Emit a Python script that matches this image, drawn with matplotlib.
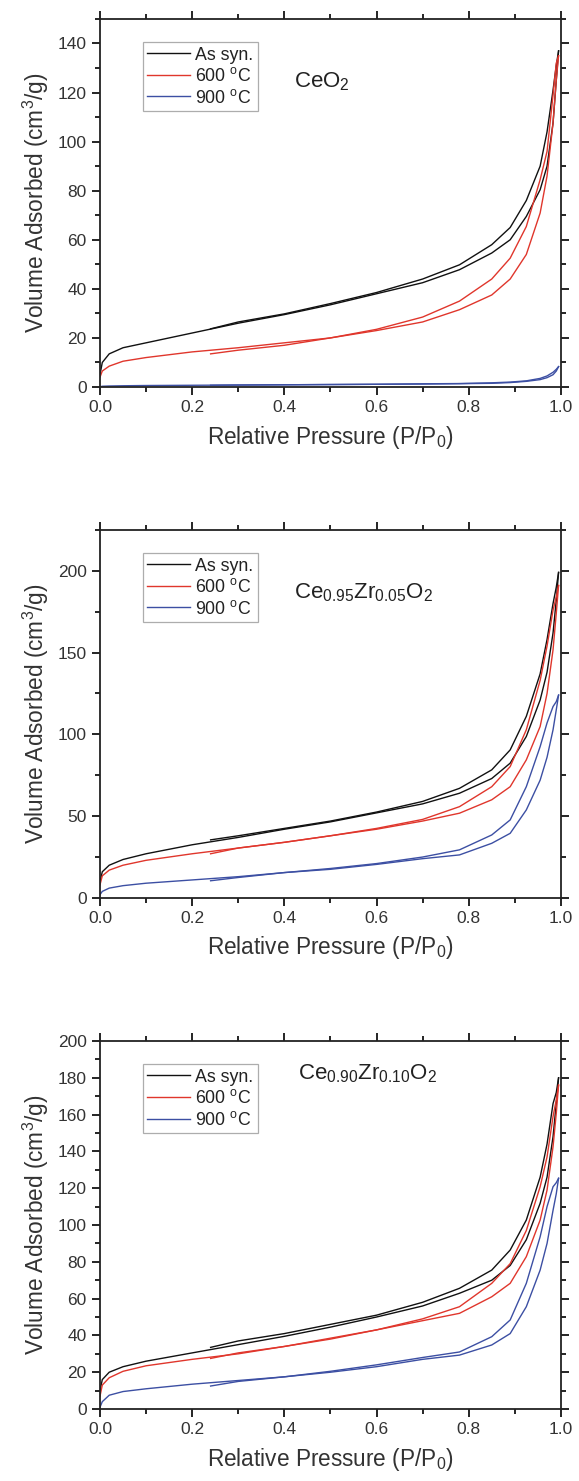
import numpy as np
import matplotlib.pyplot as plt
from matplotlib.ticker import MultipleLocator

plt.rcParams['font.family'] = ['Liberation Sans', 'DejaVu Sans']
plt.rcParams['mathtext.fontset'] = 'custom'
plt.rcParams['mathtext.rm'] = 'Liberation Sans'
plt.rcParams['mathtext.it'] = 'Liberation Sans:italic'

# Pressure points (adsorption going up, desorption coming back down)
p_ads = [0.0, 0.005, 0.02, 0.05, 0.1, 0.2, 0.3, 0.4, 0.5, 0.6, 0.7, 0.78,
         0.85, 0.89, 0.925, 0.955, 0.97, 0.983, 0.99, 0.995]
p_des = [0.995, 0.99, 0.983, 0.97, 0.955, 0.925, 0.89, 0.85, 0.78, 0.7, 0.6,
         0.5, 0.4, 0.3, 0.24]

labels = ['As syn.', '600 $^{\\mathrm{o}}$C', '900 $^{\\mathrm{o}}$C']
colors = ['#111111', '#e0362c', '#3c4fa3']

# CeO2
ceo2_ads = [
    [5, 10, 13.5, 16, 18, 22, 26, 29.5, 33.5, 38, 42.5, 47.8, 54.6, 60, 69.5, 80.4, 90, 107.6, 125, 137],
    [4, 6.5, 8.5, 10.5, 12, 14.3, 16, 18, 20, 23, 26.5, 31.5, 37.5, 44, 54, 70.9, 86, 107.6, 125, 135],
    [0.1, 0.3, 0.4, 0.5, 0.6, 0.7, 0.8, 0.9, 1.0, 1.1, 1.2, 1.35, 1.5, 1.8, 2.3, 3.0, 3.8, 5.0, 6.5, 8.3],
]
ceo2_des = [
    [137, 131, 121, 104, 90, 76, 65, 58, 49.8, 44, 38.5, 34, 29.8, 26.5, 23.7],
    [135, 132, 119, 96, 84.5, 65.4, 52.5, 44, 35, 28.5, 23.5, 20, 17, 15, 13.5],
    [8.3, 7.2, 6.0, 4.5, 3.5, 2.5, 2.0, 1.7, 1.4, 1.3, 1.1, 1.0, 0.9, 0.8, 0.7],
]

# Ce0.95Zr0.05O2
cz05_ads = [
    [10, 16, 20, 23.5, 27, 32.5, 37, 42, 46.5, 52, 57.5, 64, 73, 82.4, 98.7, 121, 138, 162, 182, 199],
    [8, 13.5, 17, 20, 23, 27, 30.5, 34, 38, 42, 47, 51.8, 60, 68, 84.4, 104.8, 125, 151.7, 174, 191],
    [2, 4, 6, 7.5, 9, 11, 13, 15.5, 17.5, 20.5, 24, 26.3, 33.4, 39.5, 53.8, 72, 86, 102.8, 115, 124],
]
cz05_des = [
    [199, 190, 180, 158, 137, 111, 90.5, 78.3, 67, 59, 52.5, 47, 42.5, 38, 35.5],
    [191, 184, 176, 154, 133, 102.8, 80.3, 68, 55.8, 48, 42.5, 38, 34, 30.5, 27],
    [124, 120, 117, 107, 92.5, 68, 47.7, 38.5, 29.4, 25, 21, 18, 15.5, 12.5, 10.5],
]

# Ce0.90Zr0.10O2
cz10_ads = [
    [10, 16, 20, 23, 26, 30.5, 35, 39.5, 44.5, 50, 56, 62.9, 70, 78, 92, 111.8, 126, 148, 166, 180],
    [7, 13, 17, 20.5, 23.5, 27, 30, 34, 38, 43, 48, 52, 61, 68.3, 82.8, 102.7, 119, 142.5, 160.7, 176],
    [1, 4, 7.5, 9.5, 11, 13.5, 15.5, 17.5, 20, 23, 27, 29.3, 34.8, 41, 55.6, 75.5, 90, 108, 117, 125.4],
]
cz10_des = [
    [180, 172, 166, 144, 126, 102.7, 86.4, 75.5, 65.6, 58, 51, 46, 41, 37, 33.5],
    [176, 168, 159, 137, 120.8, 97, 79, 68.3, 55.6, 49, 43, 38.5, 34, 30.5, 27.5],
    [125.4, 123, 120.8, 110, 93.6, 68.3, 48.4, 39.3, 31, 28, 24, 20.5, 17.5, 15, 12.5],
]

panels = [
    (ceo2_ads, ceo2_des, 'CeO$_2$', 150, 20, 10, (0.42, 0.83)),
    (cz05_ads, cz05_des, 'Ce$_{0.95}$Zr$_{0.05}$O$_2$', 225, 50, 25, (0.42, 0.83)),
    (cz10_ads, cz10_des, 'Ce$_{0.90}$Zr$_{0.10}$O$_2$', 200, 20, 10, (0.43, 0.91)),
]
bottoms = [0.7387, 0.3937, 0.0486]

fig = plt.figure(figsize=(5.79, 14.81), dpi=100)

for (ads, des, name, ymax, ymaj, ymin, txt), b in zip(panels, bottoms):
    ax = fig.add_axes([0.1727, b, 0.796, 0.2485])
    for i in range(3):
        ax.plot(p_ads, ads[i], color=colors[i], lw=1.0, label=labels[i])
        ax.plot(p_des, des[i], color=colors[i], lw=1.0)

    ax.set_xlim(0, 1.0)
    ax.set_ylim(0, ymax)
    ax.xaxis.set_major_locator(MultipleLocator(0.2))
    ax.xaxis.set_minor_locator(MultipleLocator(0.1))
    ax.yaxis.set_major_locator(MultipleLocator(ymaj))
    ax.yaxis.set_minor_locator(MultipleLocator(ymin))
    ax.xaxis.set_major_formatter(plt.FuncFormatter(lambda v, _: '%.1f' % v))
    ax.tick_params(which='both', direction='out', top=True, right=True,
                   width=1.2, labelsize=12.5, labelcolor='#333333')
    ax.tick_params(which='major', length=6)
    ax.tick_params(which='minor', length=3.5)
    for s in ax.spines.values():
        s.set_linewidth(1.3)
        s.set_color('#222222')

    ax.set_xlabel('Relative Pressure (P/P$_0$)', fontsize=16.3, color='#333333', labelpad=6)
    ax.set_ylabel('Volume Adsorbed (cm$^3$/g)', fontsize=16.3, color='#333333', labelpad=5)

    leg = ax.legend(loc='upper left', bbox_to_anchor=(0.093, 0.937), borderaxespad=0,
                    fontsize=12.8, frameon=True, fancybox=False, handlelength=2.4,
                    handletextpad=0.3, labelspacing=0.2, borderpad=0.25)
    leg.get_frame().set_edgecolor('#999999')
    leg.get_frame().set_linewidth(0.9)
    for t in leg.get_texts():
        t.set_color('#222222')

    ax.text(txt[0], txt[1], name, transform=ax.transAxes, fontsize=16,
            color='#222222', ha='left', va='center')

fig.savefig('out.png', dpi=100)
